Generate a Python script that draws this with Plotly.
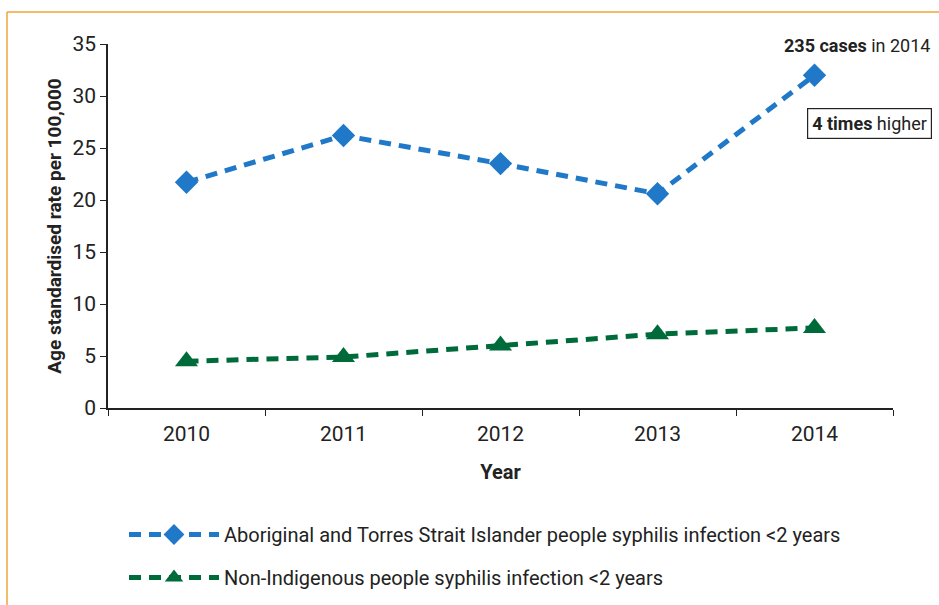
import plotly.graph_objects as go

years = ["2010", "2011", "2012", "2013", "2014"]
aboriginal_rate = [21.7, 26.2, 23.5, 20.6, 32.0]
non_indigenous_rate = [4.5, 4.9, 6.0, 7.1, 7.7]

FONT = "Roboto, Liberation Sans Narrow, sans-serif"
BLUE = "#1F78C8"
GREEN = "#006B3A"
ORANGE = "#F0A43A"

# plot area in pixels
L, R, T, B = 108, 46, 44, 197
W, H = 939, 605
pw, ph = W - L - R, H - T - B


def px_x(x):
    return (x - L) / pw


def px_y(y):
    return (H - B - y) / ph


fig = go.Figure()
fig.add_trace(go.Scatter(
    x=years, y=aboriginal_rate, mode="lines+markers",
    name="Aboriginal and Torres Strait Islander people syphilis infection <2 years",
    legendgroup="a",
    line=dict(color=BLUE, width=5, dash="12px,8px"),
    marker=dict(symbol="diamond", size=18, color=BLUE),
))
fig.add_trace(go.Scatter(
    x=years, y=non_indigenous_rate, mode="lines+markers",
    name="Non-Indigenous people syphilis infection <2 years",
    legendgroup="b",
    line=dict(color=GREEN, width=5, dash="12px,8px"),
    marker=dict(symbol="triangle-up", size=20, color=GREEN),
))

last = years.index("2014")
fig.add_annotation(
    x=last, y=34.9, yanchor="middle", xanchor="center", xshift=42,
    text="<b>235 cases</b> in 2014", showarrow=False,
    font=dict(family=FONT, size=18, color="#222"),
)
fig.add_annotation(
    x=last, y=27.4, xanchor="center", xshift=55,
    text="<b>4 times</b> higher", showarrow=False,
    font=dict(family=FONT, size=18, color="#222"),
    bordercolor="#222", borderwidth=1.2, borderpad=4, bgcolor="white",
)

# orange frame (top and left)
fig.add_shape(type="line", xref="paper", yref="paper",
              x0=px_x(7), x1=px_x(950), y0=px_y(12), y1=px_y(12),
              line=dict(color=ORANGE, width=1.5))
fig.add_shape(type="line", xref="paper", yref="paper",
              x0=px_x(7), x1=px_x(7), y0=px_y(12), y1=px_y(620),
              line=dict(color=ORANGE, width=1.5))

fig.update_layout(
    width=W, height=H,
    margin=dict(l=L, r=R, t=T, b=B, autoexpand=False),
    paper_bgcolor="white", plot_bgcolor="white",
    font=dict(family=FONT, size=18, color="#222"),
    showlegend=True,
    legend=dict(
        x=px_x(124), y=px_y(515),
        xanchor="left", yanchor="top", orientation="v",
        font=dict(family=FONT, size=20, color="#222"),
        itemwidth=90, tracegroupgap=14, bgcolor="rgba(0,0,0,0)",
    ),
    xaxis=dict(
        type="category", range=[-0.5, 4.5], tickson="boundaries",
        showline=True, linecolor="#222", linewidth=1.5, mirror=False,
        ticks="outside", ticklen=6, tickcolor="#222",
        showgrid=False, zeroline=False, ticklabelstandoff=6,
        tickfont=dict(family=FONT, size=21, color="#222"),
        title=dict(text="<b>Year</b>", font=dict(family=FONT, size=20, color="#222"), standoff=20),
    ),
    yaxis=dict(
        range=[0, 35], dtick=5,
        showline=True, linecolor="#222", linewidth=1.5,
        ticks="outside", ticklen=6, tickcolor="#222",
        showgrid=False, zeroline=False,
        tickfont=dict(family=FONT, size=21, color="#222"),
        title=dict(text="<b>Age standardised rate per 100,000</b>",
                   font=dict(family=FONT, size=19, color="#222"), standoff=6),
    ),
)

fig.write_html("out.html", config={"displayModeBar": False},
               post_script="document.body.style.margin='0';")
